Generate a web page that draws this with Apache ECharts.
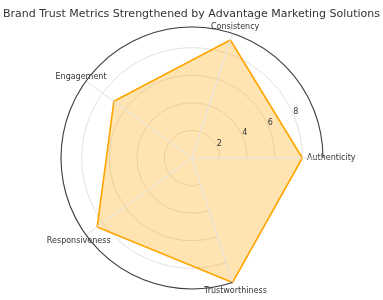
<!DOCTYPE html>
<html>
<head>
<meta charset="utf-8">
<script src="https://cdn.jsdelivr.net/npm/echarts@6/dist/echarts.min.js"></script>
<style>html,body{margin:0;padding:0;background:#fff;}#c{width:383px;height:300px;}</style>
</head>
<body>
<div id="c"></div>
<script>
const titleText = 'Brand Trust Metrics Strengthened by Advantage Marketing Solutions';
const categories = ['Authenticity', 'Consistency', 'Engagement', 'Responsiveness', 'Trustworthiness'];
const values = [8, 9, 7, 8.5, 9.5];
const radialTicks = [2, 4, 6, 8];
const radialMax = 9.5;

// label nudges (layout only): [top, right, bottom, left]
const labelPad = {
  'Authenticity': [0, 0, 0, -24],
  'Consistency': [0, 0, -5, -24],
  'Engagement': [0, -27, -5, 0],
  'Responsiveness': [-3, -31, 0, 0],
  'Trustworthiness': [-3, 0, 0, -31]
};

const center = [192, 158];
const radius = 131;
const font = 'DejaVu Sans';

const chart = echarts.init(document.getElementById('c'), null, {renderer: 'canvas'});
chart.setOption({
  animation: false,
  backgroundColor: '#fff',
  title: {
    text: titleText,
    left: 'center',
    top: 4,
    textStyle: {fontFamily: font, fontSize: 11, fontWeight: 'normal', color: '#333'}
  },
  polar: [
    {center: center, radius: radius},
    {center: center, radius: radius}
  ],
  angleAxis: [
    {
      polarIndex: 0,
      type: 'category',
      data: categories.map(c => ({value: c, textStyle: {padding: labelPad[c]}})),
      boundaryGap: false,
      startAngle: 0,
      clockwise: false,
      z: 5,
      axisLine: {show: true, lineStyle: {color: '#404040', width: 1.1}},
      axisTick: {show: false},
      axisLabel: {show: true, margin: 8, fontFamily: font, fontSize: 8, color: '#333'},
      splitLine: {show: true, lineStyle: {color: '#e2e2e2', width: 1}}
    },
    {
      polarIndex: 1,
      type: 'value',
      min: 0,
      max: 360,
      startAngle: 22.5,
      clockwise: false,
      show: false
    }
  ],
  radiusAxis: [
    {
      polarIndex: 0,
      type: 'value',
      min: 0,
      max: radialMax,
      interval: 2,
      axisLine: {show: false},
      axisTick: {show: false},
      axisLabel: {show: false},
      splitLine: {show: true, lineStyle: {color: '#e2e2e2', width: 1}}
    },
    {
      polarIndex: 1,
      type: 'value',
      min: 0,
      max: radialMax,
      interval: 2,
      z: 6,
      axisLine: {show: false},
      axisTick: {show: false},
      splitLine: {show: false},
      axisLabel: {
        show: true, margin: 4, padding: [0, -6, 0, 0], fontFamily: font, fontSize: 8, color: '#333',
        formatter: v => radialTicks.indexOf(v) >= 0 ? String(v) : ''
      }
    }
  ],
  radar: {
    center: center,
    radius: radius,
    startAngle: 0,
    shape: 'circle',
    indicator: categories.map(c => ({name: c, max: radialMax, min: 0})),
    axisName: {show: false},
    axisLine: {show: false},
    splitLine: {show: false},
    splitArea: {show: false},
    axisTick: {show: false},
    axisLabel: {show: false}
  },
  series: [{
    type: 'radar',
    radarIndex: 0,
    symbol: 'none',
    z: 3,
    data: [{
      value: values,
      name: 'Brand Trust',
      lineStyle: {color: '#FFA500', width: 1.6},
      areaStyle: {color: 'rgba(255,165,0,0.3)', opacity: 1}
    }]
  }]
});
</script>
</body>
</html>
